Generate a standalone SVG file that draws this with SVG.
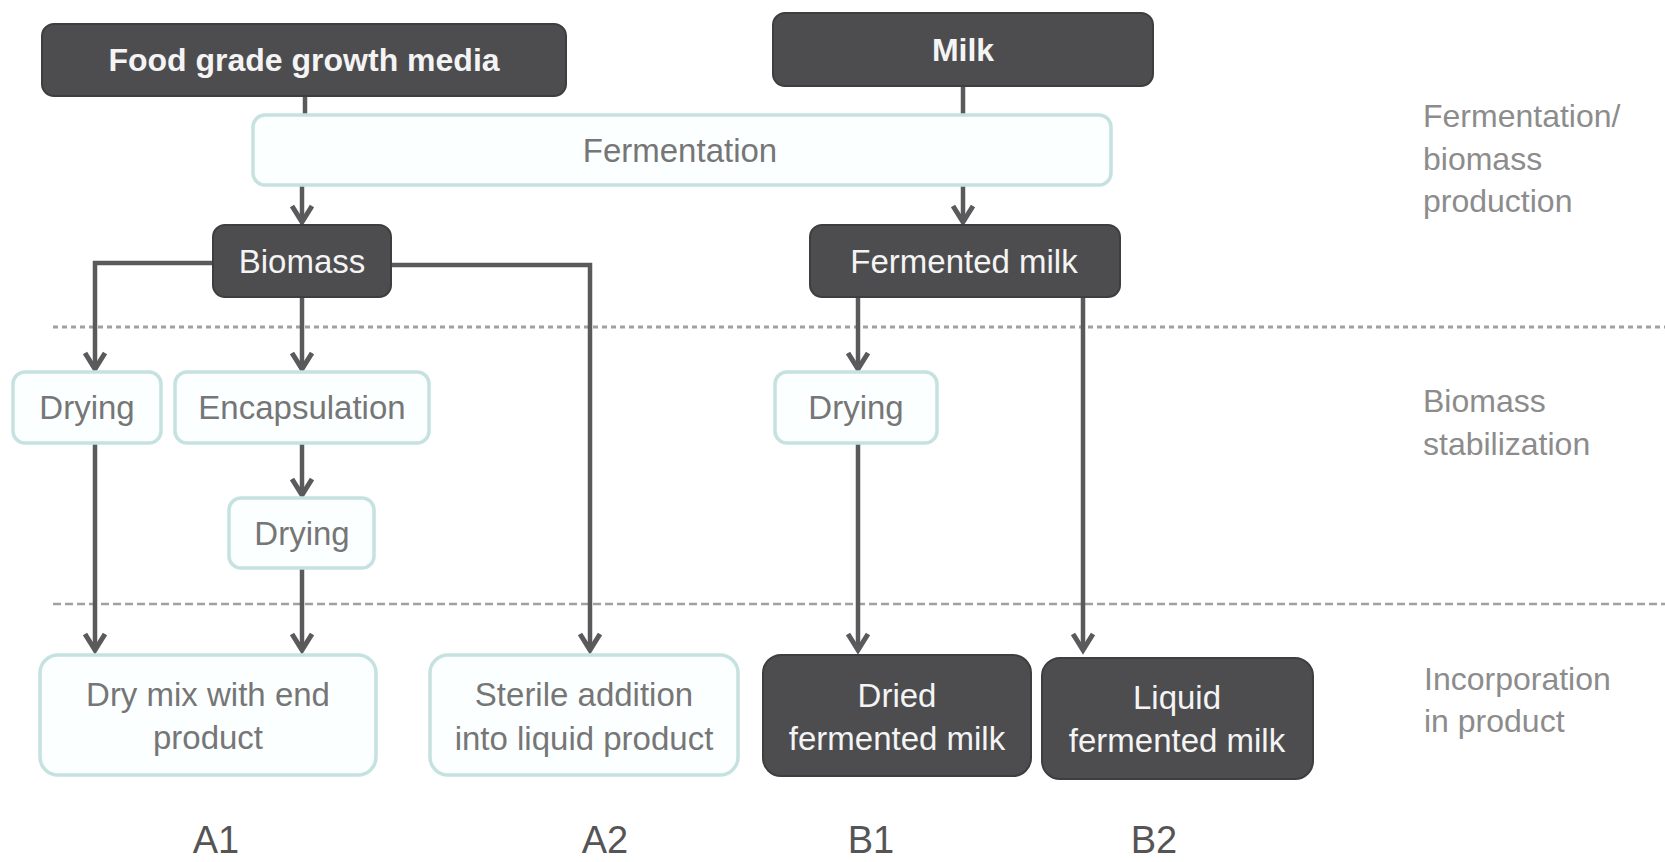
<svg xmlns="http://www.w3.org/2000/svg" width="1665" height="862" viewBox="0 0 1665 862">
<defs>
<style>
.dark{fill:#4d4d4f;stroke:#3e3e40;stroke-width:2}
.light{fill:#fcffff;stroke:#c6e2e0;stroke-width:3.5}
.tw{font-family:"Liberation Sans",Arial,sans-serif;font-size:33px;fill:#f4f4f4;text-anchor:middle}
.tb{font-family:"Liberation Sans",Arial,sans-serif;font-size:32px;font-weight:bold;fill:#f4f4f4;text-anchor:middle}
.tg{font-family:"Liberation Sans",Arial,sans-serif;font-size:33px;fill:#767676;text-anchor:middle}
.side{font-family:"Liberation Sans",Arial,sans-serif;font-size:32px;fill:#8c8c8c}
.lab{font-family:"Liberation Sans",Arial,sans-serif;font-size:38px;fill:#555}
.conn{fill:none;stroke:#5a5a5c;stroke-width:4.5}
.dash1{stroke:#a0a0a0;stroke-width:3;stroke-dasharray:5 4}
.dash2{stroke:#a0a0a0;stroke-width:2.5;stroke-dasharray:8 4}
</style>
<marker id="arr" viewBox="-24 -14 30 28" refX="0" refY="0" markerWidth="30" markerHeight="28" markerUnits="userSpaceOnUse" orient="auto">
<path d="M-16,-10 L0,0 L-16,10" fill="none" stroke="#5a5a5c" stroke-width="5" stroke-linejoin="miter"/>
</marker>
</defs>
<rect width="1665" height="862" fill="#ffffff"/>

<g id="separators">
<line class="dash1" x1="53" y1="327" x2="1665" y2="327"/>
<line class="dash2" x1="53" y1="604" x2="1665" y2="604"/>
</g>

<g id="connectors">
<line class="conn" x1="305" y1="96" x2="305" y2="115"/>
<line class="conn" x1="963" y1="86" x2="963" y2="115"/>
<line class="conn" x1="302" y1="186" x2="302" y2="222" marker-end="url(#arr)"/>
<line class="conn" x1="963" y1="186" x2="963" y2="222" marker-end="url(#arr)"/>
<path class="conn" d="M213,263 H95 V369" marker-end="url(#arr)"/>
<line class="conn" x1="302" y1="297" x2="302" y2="369" marker-end="url(#arr)"/>
<path class="conn" d="M391,265 H590 V650" marker-end="url(#arr)"/>
<line class="conn" x1="302" y1="443" x2="302" y2="495" marker-end="url(#arr)"/>
<line class="conn" x1="95" y1="443" x2="95" y2="650" marker-end="url(#arr)"/>
<line class="conn" x1="302" y1="568" x2="302" y2="650" marker-end="url(#arr)"/>
<line class="conn" x1="858" y1="297" x2="858" y2="369" marker-end="url(#arr)"/>
<line class="conn" x1="858" y1="443" x2="858" y2="650" marker-end="url(#arr)"/>
<line class="conn" x1="1083" y1="297" x2="1083" y2="650" marker-end="url(#arr)"/>
</g>

<g id="food-grade-growth-media">
<rect class="dark" x="42" y="24" width="524" height="72" rx="12"/>
<text class="tb" x="304" y="71">Food grade growth media</text>
</g>
<g id="milk">
<rect class="dark" x="773" y="13" width="380" height="73" rx="12"/>
<text class="tb" x="963" y="61">Milk</text>
</g>
<g id="fermentation">
<rect class="light" x="253" y="115" width="858" height="70" rx="12"/>
<text class="tg" x="680" y="162">Fermentation</text>
</g>
<g id="biomass">
<rect class="dark" x="213" y="225" width="178" height="72" rx="12"/>
<text class="tw" x="302" y="273">Biomass</text>
</g>
<g id="fermented-milk">
<rect class="dark" x="810" y="225" width="310" height="72" rx="12"/>
<text class="tw" x="964" y="273">Fermented milk</text>
</g>
<g id="drying-a1">
<rect class="light" x="13" y="372" width="148" height="71" rx="12"/>
<text class="tg" x="87" y="419">Drying</text>
</g>
<g id="encapsulation">
<rect class="light" x="175" y="372" width="254" height="71" rx="12"/>
<text class="tg" x="302" y="419">Encapsulation</text>
</g>
<g id="drying-a1-2">
<rect class="light" x="229" y="498" width="145" height="70" rx="12"/>
<text class="tg" x="302" y="545">Drying</text>
</g>
<g id="drying-b1">
<rect class="light" x="775" y="372" width="162" height="71" rx="12"/>
<text class="tg" x="856" y="419">Drying</text>
</g>
<g id="dry-mix">
<rect class="light" x="40" y="655" width="336" height="120" rx="18"/>
<text class="tg" x="208" y="706">Dry mix with end</text>
<text class="tg" x="208" y="749">product</text>
</g>
<g id="sterile-addition">
<rect class="light" x="430" y="655" width="308" height="120" rx="18"/>
<text class="tg" x="584" y="706">Sterile addition</text>
<text class="tg" x="584" y="750">into liquid product</text>
</g>
<g id="dried-fermented-milk">
<rect class="dark" x="763" y="655" width="268" height="121" rx="18"/>
<text class="tw" x="897" y="707">Dried</text>
<text class="tw" x="897" y="750">fermented milk</text>
</g>
<g id="liquid-fermented-milk">
<rect class="dark" x="1042" y="658" width="271" height="121" rx="18"/>
<text class="tw" x="1177" y="709">Liquid</text>
<text class="tw" x="1177" y="752">fermented milk</text>
</g>

<g id="stage-labels">
<text class="side" x="1423" y="127">Fermentation/</text>
<text class="side" x="1423" y="170">biomass</text>
<text class="side" x="1423" y="212">production</text>
<text class="side" x="1423" y="412">Biomass</text>
<text class="side" x="1423" y="455">stabilization</text>
<text class="side" x="1424" y="690">Incorporation</text>
<text class="side" x="1424" y="732">in product</text>
</g>
<g id="column-labels">
<text class="lab" x="216" y="853" text-anchor="middle">A1</text>
<text class="lab" x="605" y="853" text-anchor="middle">A2</text>
<text class="lab" x="871" y="853" text-anchor="middle">B1</text>
<text class="lab" x="1154" y="853" text-anchor="middle">B2</text>
</g>
</svg>
